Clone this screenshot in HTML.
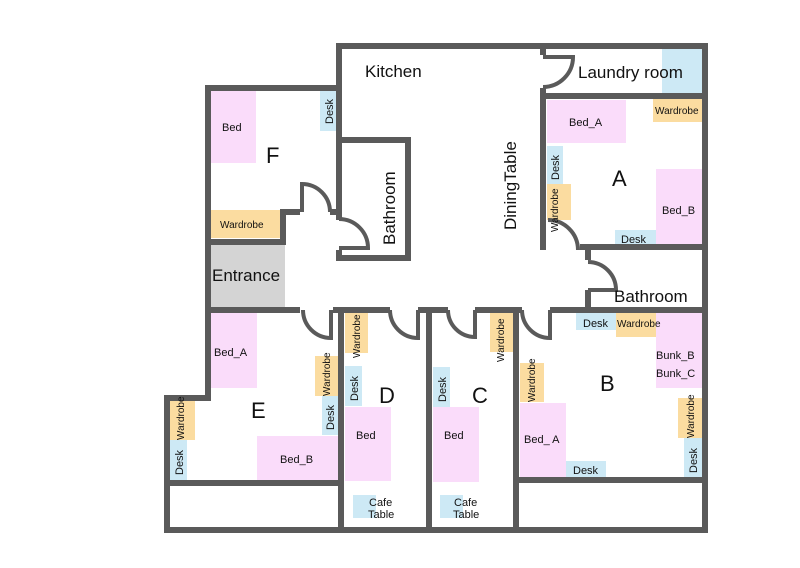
<!DOCTYPE html>
<html><head><meta charset="utf-8"><style>
html,body{margin:0;padding:0;background:#fff}
svg{display:block}
text{font-family:"Liberation Sans",sans-serif;fill:#111}
</style></head><body>
<svg width="800" height="568" viewBox="0 0 800 568">
<g>
<!-- furniture -->
<rect x="211" y="244" width="74" height="64" fill="#d4d4d4"/>
<rect x="662" y="49" width="41" height="45" fill="#cde9f5"/>
<g fill="#fadcfa">
<rect x="211" y="91" width="45" height="72"/>
<rect x="547" y="100" width="79" height="43"/>
<rect x="656" y="169" width="46" height="77"/>
<rect x="211" y="313" width="46" height="75"/>
<rect x="257" y="436" width="81" height="45"/>
<rect x="345" y="407" width="46" height="74"/>
<rect x="433" y="407" width="46" height="75"/>
<rect x="656" y="313" width="46" height="75"/>
<rect x="520" y="403" width="46" height="76"/>
</g>
<g fill="#cde9f5">
<rect x="320" y="91" width="17" height="40"/>
<rect x="547" y="146" width="16" height="38"/>
<rect x="615" y="230" width="41" height="16"/>
<rect x="322" y="396" width="16" height="39"/>
<rect x="170" y="440" width="17" height="41"/>
<rect x="345" y="366" width="17" height="40"/>
<rect x="353" y="495" width="23" height="23"/>
<rect x="433" y="367" width="17" height="40"/>
<rect x="440" y="495" width="23" height="23"/>
<rect x="576" y="313" width="40" height="17"/>
<rect x="566" y="461" width="40" height="17"/>
<rect x="684" y="438" width="18" height="40"/>
</g>
<g fill="#fbdca0">
<rect x="211" y="210" width="70" height="28"/>
<rect x="653" y="99" width="49" height="23"/>
<rect x="547" y="184" width="24" height="36"/>
<rect x="315" y="356" width="23" height="40"/>
<rect x="170" y="400" width="25" height="40"/>
<rect x="345" y="313" width="23" height="40"/>
<rect x="490" y="313" width="23" height="39"/>
<rect x="616" y="313" width="40" height="24"/>
<rect x="520" y="363" width="24" height="39"/>
<rect x="678" y="398" width="24" height="40"/>
</g>
</g>
<!-- walls -->
<g fill="none" stroke="#5a5a5a" stroke-width="6" stroke-linejoin="miter">
<path d="M339,46 H705 V530 H167 V398 H208 V88 H339 Z"/>
<path d="M339,46 V212 H330"/>
<path d="M300,212 H283 V242 H208"/>
<path d="M339,140 H408 V258 H339 V250"/>
<path d="M339,220 V140"/>
<path d="M543,46 V55"/>
<path d="M543,88 V250"/>
<path d="M543,96 H705"/>
<path d="M580,247 H705"/>
<path d="M588,247 V260"/>
<path d="M588,290 V310"/>
<path d="M208,310 H300"/>
<path d="M333,310 H390"/>
<path d="M418,310 H448"/>
<path d="M475,310 H522"/>
<path d="M550,310 H705"/>
<path d="M341,310 V530"/>
<path d="M429,310 V530"/>
<path d="M516,310 V530"/>
<path d="M167,483 H341"/>
<path d="M516,480 H705"/>
</g>
<!-- doors -->
<g fill="none" stroke="#5a5a5a" stroke-width="4">
<path d="M302,212 V184 A28,28 0 0 1 330,212"/>
<path d="M339,248 H368 A29,29 0 0 0 339,219"/>
<path d="M543,57 H573 A30,30 0 0 1 543,87"/>
<path d="M548,220 A30,30 0 0 1 578,250"/>
<path d="M588,262 A28,28 0 0 1 616,290 H588"/>
<path d="M303,310 A28,28 0 0 0 331,338 V310"/>
<path d="M390,310 A28,28 0 0 0 418,338 V310"/>
<path d="M448,310 A27,27 0 0 0 475,337 V310"/>
<path d="M522,310 A28,28 0 0 0 550,338 V310"/>
</g>
<!-- labels -->
<g font-size="17">
<text x="365" y="77">Kitchen</text>
<text x="578" y="78">Laundry room</text>
<text x="614" y="302">Bathroom</text>
<text x="212" y="281">Entrance</text>
<text transform="translate(516,230) rotate(-90)">DiningTable</text>
<text transform="translate(395,245) rotate(-90)">Bathroom</text>
</g>
<g font-size="22">
<text x="266" y="163">F</text>
<text x="612" y="186">A</text>
<text x="251" y="418">E</text>
<text x="379" y="403">D</text>
<text x="472" y="403">C</text>
<text x="600" y="391">B</text>
</g>
<g font-size="11">
<text x="222" y="131">Bed</text>
<text x="569" y="126">Bed_A</text>
<text x="662" y="214">Bed_B</text>
<text x="621" y="243">Desk</text>
<text x="214" y="356">Bed_A</text>
<text x="280" y="463">Bed_B</text>
<text x="356" y="439">Bed</text>
<text x="444" y="439">Bed</text>
<text x="524" y="443">Bed_ A</text>
<text x="573" y="474">Desk</text>
<text x="583" y="327">Desk</text>
<text x="656" y="359">Bunk_B</text>
<text x="656" y="377">Bunk_C</text>
<text x="369" y="506">Cafe</text>
<text x="368" y="518">Table</text>
<text x="454" y="506">Cafe</text>
<text x="453" y="518">Table</text>
</g>
<g font-size="10">
<text x="220" y="228">Wardrobe</text>
<text x="655" y="114">Wardrobe</text>
<text x="617" y="327">Wardrobe</text>
</g>
<g font-size="11">
<text transform="translate(333,124) rotate(-90)">Desk</text>
<text transform="translate(559,180) rotate(-90)">Desk</text>
<text transform="translate(334,430) rotate(-90)">Desk</text>
<text transform="translate(183,475) rotate(-90)">Desk</text>
<text transform="translate(358,401) rotate(-90)">Desk</text>
<text transform="translate(446,402) rotate(-90)">Desk</text>
<text transform="translate(697,473) rotate(-90)">Desk</text>
</g>
<g font-size="10">
<text transform="translate(558,232) rotate(-90)">Wardrobe</text>
<text transform="translate(330,396) rotate(-90)">Wardrobe</text>
<text transform="translate(184,440) rotate(-90)">Wardrobe</text>
<text transform="translate(360,358) rotate(-90)">Wardrobe</text>
<text transform="translate(504,362) rotate(-90)">Wardrobe</text>
<text transform="translate(535,402) rotate(-90)">Wardrobe</text>
<text transform="translate(694,438) rotate(-90)">Wardrobe</text>
</g>
</svg>
</body></html>
